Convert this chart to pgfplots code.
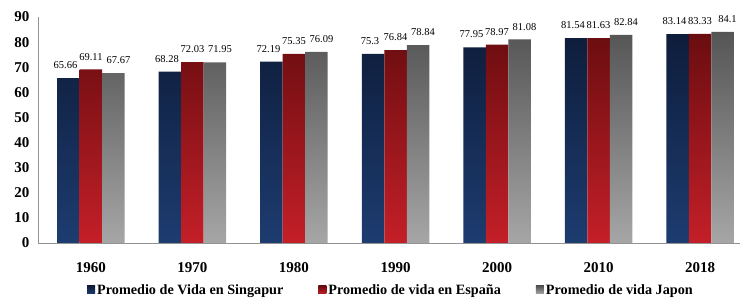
\documentclass[border=0pt]{standalone}
\usepackage{fontspec}
\setmainfont{Liberation Serif}
\usepackage{pgfplots}
\pgfplotsset{compat=1.18}
\usetikzlibrary{calc}
\definecolor{btop}{HTML}{0E1D3B}
\definecolor{bbot}{HTML}{1D3C70}
\definecolor{rtop}{HTML}{6A0D10}
\definecolor{rbot}{HTML}{C41F28}
\definecolor{gtop}{HTML}{555555}
\definecolor{gbot}{HTML}{A6A6A6}
\begin{document}
\begin{tikzpicture}
\begin{axis}[
  scale only axis, width=702pt, height=226pt,
  ybar=0pt, bar width=22.5pt,
  xmin=-0.522, xmax=6.394, ymin=0, ymax=90,
  ytick={0,10,...,90},
  xtick={0,...,6}, xticklabels={1960,1970,1980,1990,2000,2010,2018},
  axis x line*=bottom, axis y line*=left,
  axis line style={draw=gray!85, line width=0.8pt, -},
  major tick length=0pt,
  tick label style={font=\fontsize{15}{15}\selectfont\bfseries},
  yticklabel style={xshift=-5pt},
  xticklabel style={yshift=-16pt},
  /pgf/number format/assume math mode=true,
  nodes near coords,
  nodes near coords style={font=\fontsize{10.5}{10.5}\selectfont, inner sep=0pt, yshift=9pt, text=black},
  legend columns=3,
  legend cell align=left,
  legend image code/.code={\fill[#1] (0pt,-4pt) rectangle (8pt,4pt);},
  legend style={draw=none, at={(0.5,0)}, anchor=center, xshift=2pt, yshift=-47pt,
    font=\fontsize{14.2}{14.2}\selectfont\bfseries,
    /tikz/every even column/.append style={column sep=33pt}},
]
\addplot[draw=none, top color=btop, bottom color=bbot, nodes near coords style={xshift=-3pt}] coordinates {(0,65.66) (1,68.28) (2,72.19) (3,75.3) (4,77.95) (5,81.54) (6,83.14)};
\addlegendentry{Promedio de Vida en Singapur}
\addplot[draw=none, top color=rtop, bottom color=rbot] coordinates {(0,69.11) (1,72.03) (2,75.35) (3,76.84) (4,78.97) (5,81.63) (6,83.33)};
\addlegendentry{Promedio de vida en España}
\addplot[draw=none, top color=gtop, bottom color=gbot, nodes near coords style={xshift=5pt}] coordinates {(0,67.67) (1,71.95) (2,76.09) (3,78.84) (4,81.08) (5,82.84) (6,84.1)};
\addlegendentry{Promedio de vida Japon}
\coordinate (bl) at (rel axis cs:0,0);
\coordinate (tr) at (rel axis cs:1,1);
\end{axis}
\pgfresetboundingbox
\path ($(bl)+(-38pt,-55pt)$) rectangle ($(tr)+(0pt,17pt)$);
\end{tikzpicture}
\end{document}
